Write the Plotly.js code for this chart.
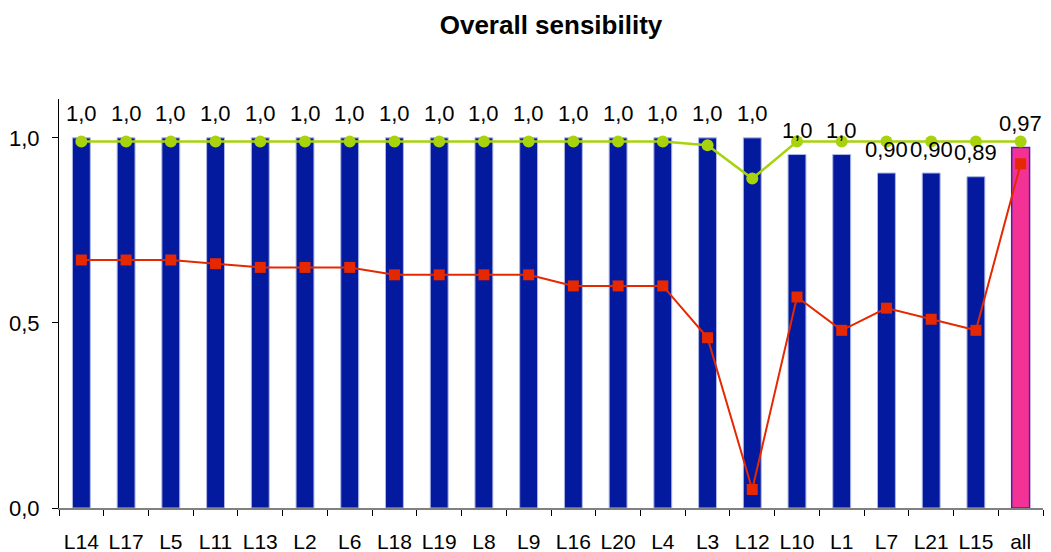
<!DOCTYPE html>
<html>
<head>
<meta charset="utf-8">
<script src="https://cdn.plot.ly/plotly-3.0.1.min.js"></script>
<style>
  html, body { margin: 0; padding: 0; background: #ffffff; }
  #chart { width: 1051px; height: 552px; }
</style>
</head>
<body>
<div id="chart"></div>
<script>
// Categories (lines) plus the overall summary column
const categories = ['L14','L17','L5','L11','L13','L2','L6','L18','L19','L8','L9','L16','L20','L4','L3','L12','L10','L1','L7','L21','L15','all'];

// Sensibility per line (bars)
const sensibility = [1.0,1.0,1.0,1.0,1.0,1.0,1.0,1.0,1.0,1.0,1.0,1.0,1.0,1.0,1.0,1.0,0.955,0.955,0.905,0.905,0.895,0.974];

// Data labels printed above the bars
const barLabels = ['1,0','1,0','1,0','1,0','1,0','1,0','1,0','1,0','1,0','1,0','1,0','1,0','1,0','1,0','1,0','1,0','1,0','1,0','0,90','0,90','0,89','0,97'];

// Upper series (green line)
const upperSeries = [0.99,0.99,0.99,0.99,0.99,0.99,0.99,0.99,0.99,0.99,0.99,0.99,0.99,0.99,0.98,0.89,0.99,0.99,0.99,0.99,0.99,0.99];

// Lower series (red line)
const lowerSeries = [0.67,0.67,0.67,0.66,0.65,0.65,0.65,0.63,0.63,0.63,0.63,0.60,0.60,0.60,0.46,0.05,0.57,0.48,0.54,0.51,0.48,0.93];

const barColors = categories.map(c => c === 'all' ? '#F43296' : '#031A9E');
const barLines = categories.map(c => c === 'all' ? '#4A22A8' : '#AEB6E6');
const barLineWidths = categories.map(c => c === 'all' ? 1.5 : 1);

const font = 'Liberation Sans, Arial, sans-serif';

const traces = [
  {
    type: 'bar',
    x: categories,
    y: sensibility,
    marker: { color: barColors, line: { color: barLines, width: barLineWidths } },
    hoverinfo: 'x+y'
  },
  {
    type: 'scatter',
    mode: 'lines+markers',
    x: categories,
    y: lowerSeries,
    line: { color: '#E62800', width: 2 },
    marker: { symbol: 'square', size: 11, color: '#E62800' }
  },
  {
    type: 'scatter',
    mode: 'lines+markers',
    x: categories,
    y: upperSeries,
    line: { color: '#A8D30C', width: 2.5 },
    marker: { symbol: 'circle', size: 12, color: '#A8D30C' }
  }
];

const annotations = categories.map((c, i) => ({
  x: c,
  y: sensibility[i],
  xref: 'x',
  yref: 'y',
  text: barLabels[i],
  showarrow: false,
  yshift: 24,
  font: { family: font, size: 22, color: '#000000' }
}));

const layout = {
  width: 1051,
  height: 552,
  paper_bgcolor: '#ffffff',
  plot_bgcolor: '#ffffff',
  separators: ', ',
  showlegend: false,
  bargap: 0.6,
  margin: { l: 59, r: 8, t: 99, b: 44, autoexpand: false },
  font: { family: font, size: 21, color: '#000000' },
  title: {
    text: '<b>Overall sensibility</b>',
    font: { family: font, size: 26, color: '#000000' },
    x: 0.5,
    xref: 'paper',
    xanchor: 'center',
    y: 0.955,
    yref: 'container',
    yanchor: 'middle'
  },
  xaxis: {
    type: 'category',
    range: [-0.5, categories.length - 0.5],
    showgrid: false,
    zeroline: false,
    showline: true,
    linecolor: '#808080',
    linewidth: 1.5,
    ticks: 'outside',
    tickson: 'boundaries',
    ticklen: 6,
    tickcolor: '#000000',
    tickwidth: 1,
    tickangle: 0,
    automargin: false,
    ticklabelstandoff: 14,
    tickfont: { family: font, size: 21, color: '#000000' },
    fixedrange: true
  },
  yaxis: {
    range: [0, 1.105],
    tickvals: [0, 0.5, 1.0],
    tickformat: '.1f',
    showgrid: false,
    zeroline: false,
    showline: true,
    linecolor: '#000000',
    linewidth: 1,
    ticks: 'outside',
    ticklen: 6,
    tickcolor: '#000000',
    automargin: false,
    ticklabelstandoff: 8,
    tickfont: { family: font, size: 22, color: '#000000' },
    fixedrange: true
  },
  annotations: annotations
};

Plotly.newPlot('chart', traces, layout, { displayModeBar: false, staticPlot: true });
</script>
</body>
</html>
